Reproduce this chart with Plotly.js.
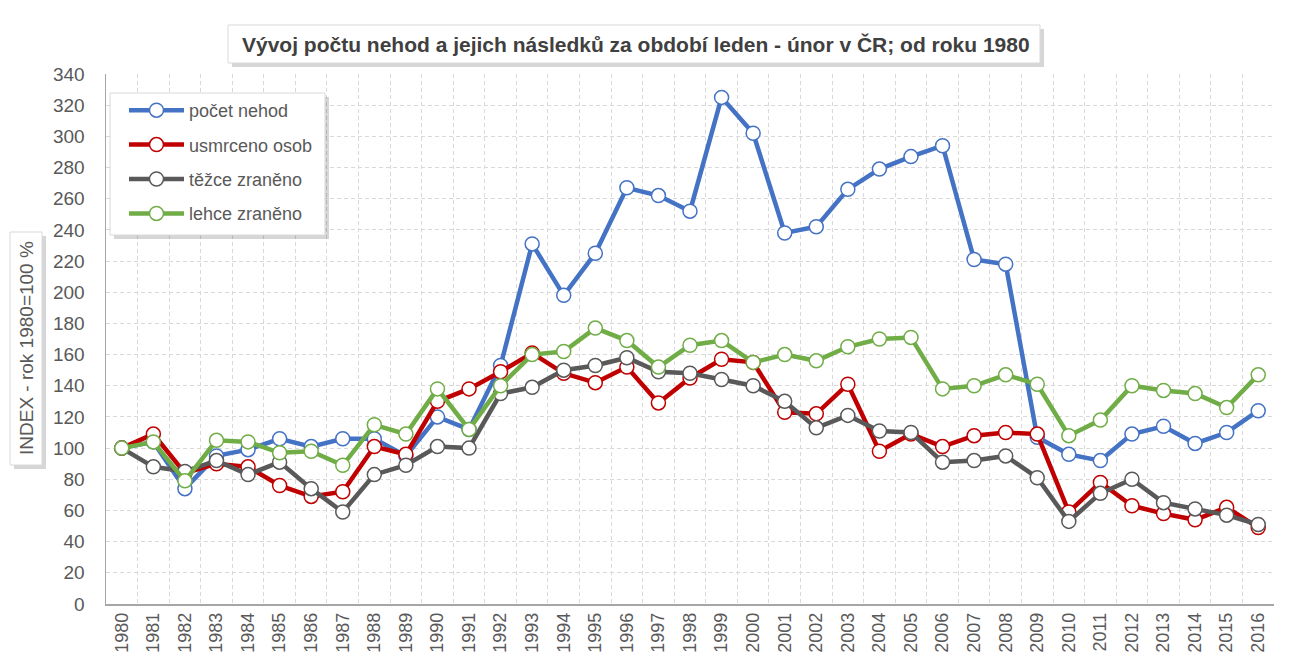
<!DOCTYPE html>
<html>
<head>
<meta charset="utf-8">
<script src="https://cdn.plot.ly/plotly-3.0.1.min.js"></script>
<style>html,body{margin:0;padding:0;background:#fff;}#chart{width:1290px;height:662px;}</style>
</head>
<body>
<div id="chart"></div>
<script>
const years = [1980,1981,1982,1983,1984,1985,1986,1987,1988,1989,1990,1991,1992,1993,1994,1995,1996,1997,1998,1999,2000,2001,2002,2003,2004,2005,2006,2007,2008,2009,2010,2011,2012,2013,2014,2015,2016];
const pocetNehod = [100,104,74,95,99,106,101,106,106,95,120,112,153,231,198,225,267,262,252,325,302,238,242,266,279,287,294,221,218,107,96,92,109,114,103,110,124];
const usmrcenoOsob = [100,109,84,90,88,76,69,72,101,96,130,138,149,161,148,142,152,129,145,157,155,123,122,141,98,109,101,108,110,109,59,78,63,58,54,62,49];
const tezceZraneno = [100,88,85,92,83,91,74,59,83,89,101,100,135,139,150,153,158,149,148,144,140,130,113,121,111,110,91,92,95,81,53,71,80,65,61,57,51];
const lehceZraneno = [100,104,79,105,104,97,98,89,115,109,138,112,140,160,162,177,169,152,166,169,155,160,156,165,170,171,138,140,147,141,108,118,140,137,135,126,147];
const seriesNames = ['počet nehod','usmrceno osob','těžce zraněno','lehce zraněno'];
const seriesColors = ['#4472C4','#C00000','#595959','#70AD47'];
const seriesData = [pocetNehod, usmrcenoOsob, tezceZraneno, lehceZraneno];
const yTicks = [0,20,40,60,80,100,120,140,160,180,200,220,240,260,280,300,320,340];

const W = 1290, H = 662;
const M = {l:106, r:16, t:74, b:58};
const pw = W - M.l - M.r, ph = H - M.t - M.b;
const px = x => (x - M.l) / pw;
const py = y => (H - M.b - y) / ph;

const FONT = '"Liberation Sans Narrow", "Arial Narrow", "Liberation Sans", Arial, sans-serif';

const traces = seriesData.map((vals, i) => ({
  type: 'scatter', mode: 'lines+markers',
  x: years, y: vals, name: seriesNames[i],
  legendgroup: 'g' + i,
  line: {color: seriesColors[i], width: 4.5},
  marker: {symbol: 'circle', size: 14, color: '#ffffff', line: {color: seriesColors[i], width: 1.5}},
  hoverinfo: 'x+y+name'
}));

function box(x0, y0, x1, y1) {
  return [
    {type:'rect', xref:'paper', yref:'paper', x0:px(x0+4), x1:px(x1+4), y0:py(y0+4), y1:py(y1+4),
     fillcolor:'rgba(0,0,0,0.16)', line:{width:0}, layer:'above'},
    {type:'rect', xref:'paper', yref:'paper', x0:px(x0), x1:px(x1), y0:py(y0), y1:py(y1),
     fillcolor:'#ffffff', line:{color:'#d9d9d9', width:1}, layer:'above'}
  ];
}

const shapes = [].concat(box(228, 25, 1040, 63), box(10, 232, 42, 465), box(110, 93, 325, 235));

const layout = {
  width: W, height: H,
  margin: M,
  paper_bgcolor: '#ffffff', plot_bgcolor: '#ffffff',
  font: {family: FONT, color: '#595959', size: 19},
  showlegend: true,
  legend: {
    x: px(124), y: py(92), xanchor: 'left', yanchor: 'top',
    bgcolor: 'rgba(0,0,0,0)', borderwidth: 0,
    font: {family: FONT, size: 18, color: '#595959'},
    traceorder: 'grouped', tracegroupgap: 8, itemwidth: 55
  },
  xaxis: {
    range: [1979.5, 2016.5], tickmode: 'array', tickvals: years, ticktext: years.map(String),
    tickangle: -90, showgrid: false, zeroline: false,
    showline: true, linecolor: '#a6a6a6', linewidth: 1.5, ticks: '',
    tickfont: {family: FONT, size: 18, color: '#595959'},
    minor: {tickmode: 'array', tickvals: years.map(v => v + 0.5), showgrid: true, gridcolor: '#d9d9d9', gridwidth: 1, griddash: '4px,3px', ticks: ''}
  },
  yaxis: {
    range: [0, 340], tickmode: 'array', tickvals: yTicks, ticktext: yTicks.map(String),
    showgrid: true, gridcolor: '#d9d9d9', gridwidth: 1, griddash: '4px,3px',
    zeroline: false, showline: true, linecolor: '#a6a6a6', linewidth: 1.5, ticks: '',
    ticklabelstandoff: 16,
    tickfont: {family: FONT, size: 19, color: '#595959'}
  },
  shapes: shapes,
  annotations: [
    {xref:'paper', yref:'paper', x: px(636), y: py(44), xanchor:'center', yanchor:'middle', showarrow:false,
     text:'<b>Vývoj počtu nehod a jejich následků za období leden - únor v ČR; od roku 1980</b>',
     font:{family: FONT, size: 21, color:'#404040'}},
    {xref:'paper', yref:'paper', x: px(26), y: py(348), xanchor:'center', yanchor:'middle', showarrow:false,
     textangle: -90, text:'INDEX - rok 1980=100 %',
     font:{family: FONT, size: 19, color:'#595959'}}
  ]
};

Plotly.newPlot('chart', traces, layout, {displayModeBar: false, staticPlot: true});
</script>
</body>
</html>
